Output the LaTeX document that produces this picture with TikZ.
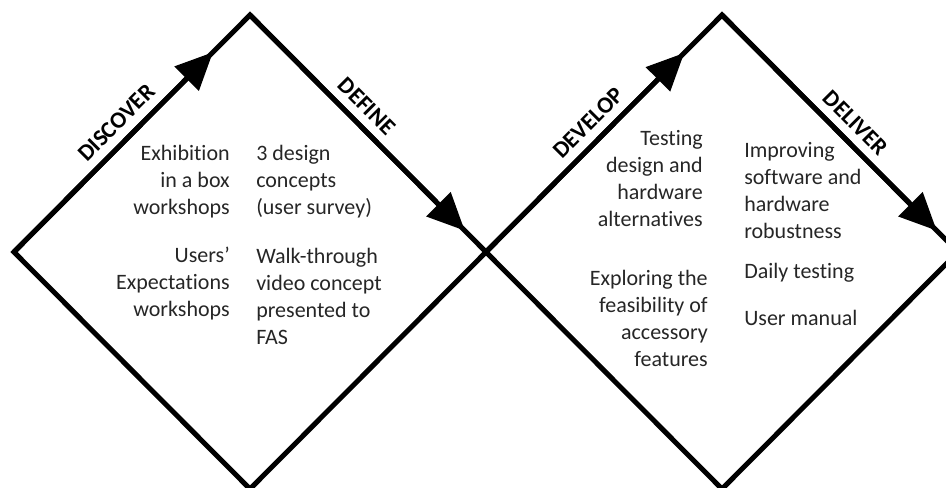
\documentclass[tikz,border=0pt]{standalone}
\usepackage{fontspec}
\setmainfont[Ligatures={TeX,NoCommon}]{Carlito}
\usetikzlibrary{arrows.meta,calc}
\tikzset{%
  >={Triangle[length=28pt,width=25pt]},
  % Styles for the two diamonds and their texts:
        phase/.style = {line width=3.75pt, line join=miter},
        stage/.style = {font=\bfseries\fontsize{17.5}{20}\selectfont,
                        sloped, above=3pt},
         task/.style = {inner sep=0pt, text=black!85,
                        font=\fontsize{16.5}{20.25}\selectfont},
     taskleft/.style = {task, anchor=north east, align=right},
    taskright/.style = {task, anchor=north west, align=left}
}

\begin{document}
\begin{tikzpicture}[x=0.75pt, y=0.75pt]
  \useasboundingbox (0,0) rectangle (946,487);
  \clip (0,0) rectangle (946,487);

  \coordinate (left)    at (14,235);
  \coordinate (top1)    at (250,472);
  \coordinate (mid)     at (486,235);
  \coordinate (bottom1) at (250,-2);
  \coordinate (top2)    at (722,472);
  \coordinate (right)   at (958,235);
  \coordinate (bottom2) at (722,-2);

  \coordinate (discover) at ($(left)!0.843!(top1)$);
  \coordinate (define)   at ($(top1)!0.91!(mid)$);
  \coordinate (develop)  at ($(mid)!0.84!(top2)$);
  \coordinate (deliver)  at ($(top2)!0.91!(right)$);

  \draw[phase] (left) -- node[stage, pos=0.49]{DISCOVER} (top1)
                      -- node[stage, pos=0.44]{DEFINE} (mid) -- (bottom1) -- cycle;
  \draw[phase] (mid) -- node[stage, pos=0.49]{DEVELOP} (top2)
                     -- node[stage, pos=0.51]{DELIVER} (right) -- (bottom2) -- cycle;

  \draw[phase,->] (left) -- (discover);
  \draw[phase,->] (top1) -- (define);
  \draw[phase,->] (mid) -- (develop);
  \draw[phase,->] (top2) -- (deliver);

  \node (exhibit)  [taskleft]  at (230,342) {Exhibition\\in a box\\workshops};
  \node (users)    [taskleft]  at (230,240) {Users’\\Expectations\\workshops};
  \node (concepts) [taskright] at (256,342) {3 design\\concepts\\(user survey)};
  \node (video)    [taskright] at (256,239) {Walk-through\\video concept\\presented to\\FAS};

  \node (testing)  [taskleft]  at (703,357) {Testing\\design and\\hardware\\alternatives};
  \node (explore)  [taskleft]  at (708,217) {Exploring the\\feasibility of\\accessory\\features};
  \node (improve)  [taskright] at (744,345) {Improving\\software and\\hardware\\robustness};
  \node (daily)    [taskright] at (744,224) {Daily testing};
  \node (manual)   [taskright] at (744,177) {User manual};
\end{tikzpicture}
\end{document}
